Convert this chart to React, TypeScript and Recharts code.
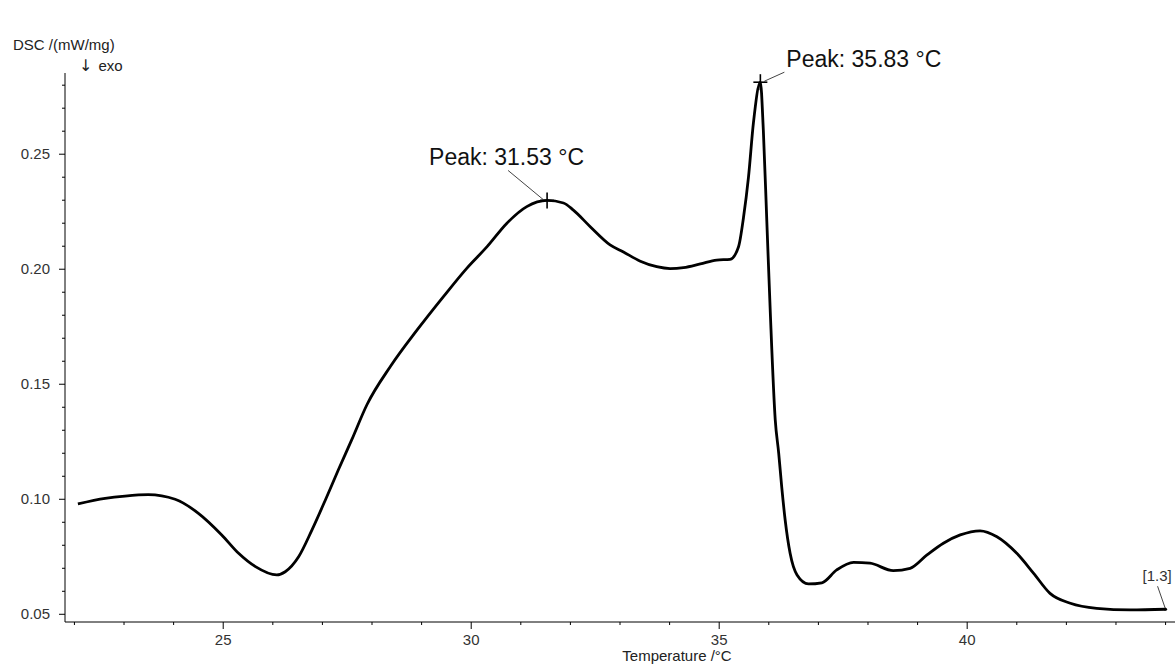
import React from 'react';
import { LineChart, Line, XAxis, YAxis, ReferenceDot } from 'recharts';

// DSC curve, temperature in °C and DSC in mW/mg
const temperatures = [
  22.07, 22.62, 23.02, 23.49, 24.03, 24.5, 24.97, 25.31, 25.65, 26.08,
  26.25, 26.52, 26.79, 27.06, 27.32, 27.59, 27.9, 28.37, 28.91, 29.44,
  29.91, 30.32, 30.72, 31.12, 31.53, 31.86, 32.06, 32.4, 32.8, 33.07,
  33.41, 33.74, 34.01, 34.28, 34.62, 34.95, 35.22, 35.39, 35.49, 35.59,
  35.69, 35.83, 35.89, 35.96, 36.03, 36.13, 36.2, 36.26, 36.33, 36.43,
  36.57, 36.8, 37.07, 37.37, 37.71, 38.04, 38.51, 38.85, 39.19, 39.52,
  39.86, 40.26, 40.6, 41.0, 41.34, 41.67, 42.08, 42.61, 43.29, 44.0
];
const dscValues = [
  0.098, 0.1004, 0.1014, 0.102, 0.1, 0.0939, 0.0845, 0.0765, 0.0707, 0.0671,
  0.0685, 0.075, 0.0867, 0.0997, 0.1127, 0.1258, 0.1412, 0.1577, 0.1736, 0.1881,
  0.2004, 0.2098, 0.22, 0.2272, 0.2299, 0.2288, 0.2257, 0.2185, 0.2106, 0.2075,
  0.2035, 0.2011, 0.2003, 0.2007, 0.2023, 0.204, 0.2043, 0.2098, 0.2225, 0.2399,
  0.2636, 0.2813, 0.2604, 0.2209, 0.1814, 0.1345, 0.12, 0.1055, 0.091, 0.0765,
  0.0671, 0.0632, 0.0637, 0.0693, 0.0726, 0.0722, 0.069, 0.07, 0.0758, 0.0809,
  0.0845, 0.0863, 0.0837, 0.0765, 0.0678, 0.0591, 0.0548, 0.0526, 0.0519, 0.0522
];

const xTicks = [22, 23, 24, 25, 26, 27, 28, 29, 30, 31, 32, 33, 34, 35, 36, 37, 38, 39, 40, 41, 42, 43, 44];
const yTicks = [
  0.05, 0.06, 0.07, 0.08, 0.09, 0.1, 0.11, 0.12, 0.13, 0.14, 0.15, 0.16,
  0.17, 0.18, 0.19, 0.2, 0.21, 0.22, 0.23, 0.24, 0.25, 0.26, 0.27, 0.28
];

const peakTemps = [31.53, 35.83];
const peakValues = [0.2299, 0.2813];
const peakLabels = ['Peak: 31.53 °C', 'Peak: 35.83 °C'];
const endLabel = '[1.3]';

const data = temperatures.map((t, i) => ({ t, dsc: dscValues[i] }));

const FONT = '"Liberation Sans", Arial, sans-serif';

// where each peak label sits relative to its marker (px)
const peakOffsets = [
  { tx: -118, ty: -35, lx: -39, ly: -30, ex: -4, ey: -1 },
  { tx: 26, ty: -15, lx: 24, ly: -10, ex: 4, ey: -1 }
];

const XTick = (props: any) => {
  const { x, y, payload } = props;
  const major = payload.value % 5 === 0;
  return (
    <g>
      <line x1={x} y1={y} x2={x} y2={y + (major ? 7 : 3)} stroke="#000" />
      {major && (
        <text x={x} y={y + 23} textAnchor="middle" fontSize={15} fontFamily={FONT} fill="#333">
          {payload.value}
        </text>
      )}
    </g>
  );
};

const YTick = (props: any) => {
  const { x, y, payload } = props;
  const major = Math.round(payload.value * 100) % 5 === 0;
  return (
    <g>
      <line x1={x - (major ? 6 : 3)} y1={y} x2={x} y2={y} stroke="#000" />
      {major && (
        <text x={x - 15} y={y + 5} textAnchor="end" fontSize={15} fontFamily={FONT} fill="#333">
          {payload.value.toFixed(2)}
        </text>
      )}
    </g>
  );
};

const YTitle = (props: any) => {
  const { viewBox } = props;
  return (
    <g fontFamily={FONT} fontSize={15} fill="#222">
      <text x={viewBox.x + 13} y={viewBox.y - 23}>DSC /(mW/mg)</text>
      <text x={viewBox.x + 79} y={viewBox.y - 2}>
        <tspan fontFamily="DejaVu Sans" fontSize={16}>↓</tspan>
        <tspan dx={6}>exo</tspan>
      </text>
    </g>
  );
};

const XTitle = (props: any) => {
  const { viewBox } = props;
  return (
    <text x={viewBox.x + 612} y={viewBox.y + 39} textAnchor="middle" fontFamily={FONT} fontSize={15} fill="#222">
      Temperature /°C
    </text>
  );
};

const PeakMark = (idx: number) => (props: any) => {
  const { cx, cy } = props;
  const o = peakOffsets[idx];
  return (
    <g>
      <line x1={cx + o.lx} y1={cy + o.ly} x2={cx + o.ex} y2={cy + o.ey} stroke="#444" strokeWidth={1} />
      <line x1={cx - 7} y1={cy} x2={cx + 7} y2={cy} stroke="#000" strokeWidth={1.6} />
      <line x1={cx} y1={cy - 8} x2={cx} y2={cy + 8} stroke="#000" strokeWidth={1.6} />
      <text x={cx + o.tx} y={cy + o.ty} fontFamily={FONT} fontSize={23} fill="#111">
        {peakLabels[idx]}
      </text>
    </g>
  );
};

const EndMark = (props: any) => {
  const { cx, cy } = props;
  return (
    <g>
      <line x1={cx - 8} y1={cy - 23} x2={cx} y2={cy} stroke="#444" strokeWidth={1} />
      <circle cx={cx} cy={cy} r={1.5} fill="#000" />
      <text x={cx - 23} y={cy - 28} fontFamily={FONT} fontSize={15} fill="#333">
        {endLabel}
      </text>
    </g>
  );
};

export default function App() {
  const last = data[data.length - 1];
  return (
    <div style={{ position: 'absolute', left: 0, top: 0, background: '#fff' }}>
      <LineChart width={1175} height={665} data={data} margin={{ top: 73, right: 0, left: 0, bottom: 0 }}>
        <XAxis
          dataKey="t"
          type="number"
          domain={[21.81, 44.19]}
          allowDataOverflow
          ticks={xTicks}
          interval={0}
          tickSize={0}
          tickMargin={0}
          tickLine={false}
          tick={<XTick />}
          axisLine={{ stroke: '#000' }}
          height={43}
          label={<XTitle />}
        />
        <YAxis
          type="number"
          domain={[0.04665, 0.2853]}
          allowDataOverflow
          ticks={yTicks}
          interval={0}
          tickSize={0}
          tickMargin={0}
          tickLine={false}
          tick={<YTick />}
          axisLine={{ stroke: '#000' }}
          width={65}
          label={<YTitle />}
        />
        <Line
          type="monotone"
          dataKey="dsc"
          stroke="#000"
          strokeWidth={2.8}
          dot={false}
          isAnimationActive={false}
        />
        {peakTemps.map((t, i) => (
          <ReferenceDot key={`peak-${i}`} x={t} y={peakValues[i]} r={0} shape={PeakMark(i)} />
        ))}
        <ReferenceDot x={last.t} y={last.dsc} r={0} shape={EndMark} />
      </LineChart>
    </div>
  );
}
